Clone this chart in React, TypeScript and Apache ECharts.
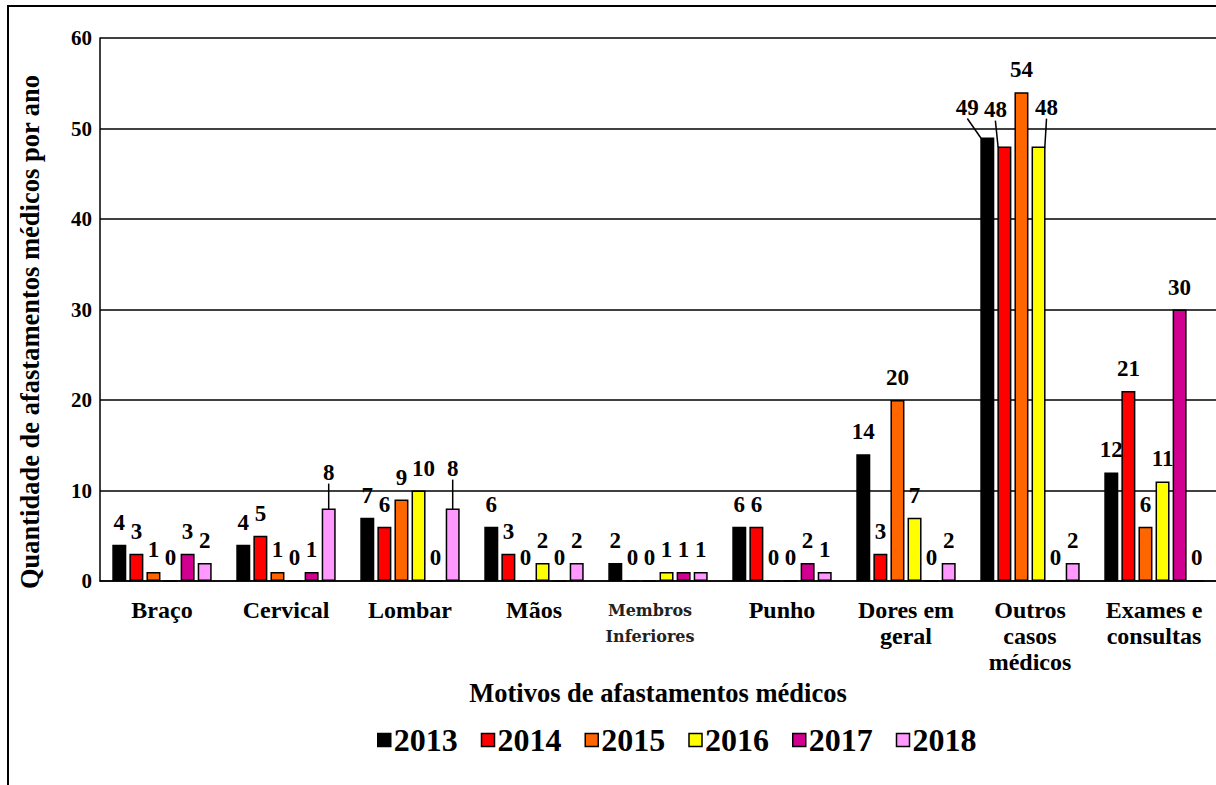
import React, { useEffect, useRef } from "react";
import * as echarts from "echarts";

const categories = [
  "Braço",
  "Cervical",
  "Lombar",
  "Mãos",
  "Membros Inferiores",
  "Punho",
  "Dores em\ngeral",
  "Outros\ncasos\nmédicos",
  "Exames e\nconsultas",
];
const years = ["2013", "2014", "2015", "2016", "2017", "2018"];
const v2013 = [4, 4, 7, 6, 2, 6, 14, 49, 12];
const v2014 = [3, 5, 6, 3, 0, 6, 3, 48, 21];
const v2015 = [1, 1, 9, 0, 0, 0, 20, 54, 6];
const v2016 = [0, 0, 10, 2, 1, 0, 7, 48, 11];
const v2017 = [3, 1, 0, 0, 1, 2, 0, 0, 30];
const v2018 = [2, 8, 8, 2, 1, 1, 2, 2, 0];
const seriesValues = [v2013, v2014, v2015, v2016, v2017, v2018];
const colors = ["#000000", "#FF0000", "#FF6600", "#FFFF00", "#D10090", "#FF99FF"];
const yTicks = [0, 10, 20, 30, 40, 50, 60];

// labels moved away from their bars: [series, category, dx, dy, leader line]
const movedLabels: [number, number, number, number, boolean][] = [
  [5, 1, 0, -14, true],
  [5, 2, 0, -18, true],
  [3, 2, 5, 0, false],
  [0, 7, -20, -8, true],
  [1, 7, -9, -15, true],
  [3, 7, 8, -17, true],
];

const SERIF = '"Liberation Serif", "Times New Roman", serif';

export default function App() {
  const ref = useRef<HTMLDivElement>(null);
  useEffect(() => {
    if (!ref.current) return;
    const chart = echarts.init(ref.current, null, { renderer: "svg" });
    const findMove = (si: number, ci: number) =>
      movedLabels.find((e) => e[0] === si && e[1] === ci);
    const series = years.map((y, si) => ({
      name: y,
      type: "bar",
      barWidth: 14,
      barGap: "22%",
      data: seriesValues[si].map((v, ci) => {
        const m = findMove(si, ci);
        return m && m[4] ? { value: v, labelLine: { show: true } } : v;
      }),
      itemStyle: { color: colors[si], borderColor: "#000", borderWidth: 1.5 },
      label: {
        show: true,
        position: "top",
        distance: 11,
        fontFamily: SERIF,
        fontWeight: "bold",
        fontSize: 23,
        color: "#000",
      },
      labelLine: { show: false, lineStyle: { color: "#000", width: 1.5 } },
      labelLayout: (p: any) => {
        const m = findMove(si, p.dataIndex);
        if (m) return { dx: m[2], dy: m[3] };
        return {};
      },
    }));
    chart.setOption({
      animation: false,
      backgroundColor: "#fff",
      textStyle: { fontFamily: SERIF },
      grid: { left: 100, top: 38, right: 0, bottom: 204, containLabel: false },
      legend: {
        bottom: 24,
        left: 372,
        itemWidth: 13,
        itemHeight: 13,
        itemGap: 23,
        icon: "rect",
        data: years.map((y, i) => ({
          name: y,
          itemStyle: { color: colors[i], borderColor: "#000", borderWidth: 1.5 },
        })),
        textStyle: { fontFamily: SERIF, fontWeight: "bold", fontSize: 32, color: "#000", padding: [0, 0, 0, -2] },
      },
      xAxis: {
        type: "category",
        data: categories,
        axisLine: { lineStyle: { color: "#000", width: 1.5 } },
        axisTick: { show: false },
        axisLabel: {
          interval: 0,
          margin: 16,
          fontFamily: SERIF,
          fontWeight: "bold",
          fontSize: 24,
          lineHeight: 26,
          color: "#000",
          formatter: (v: string) =>
            v === "Membros Inferiores" ? "{m|Membros}\n{m|Inferiores}" : v,
          rich: {
            m: {
              fontFamily: '"DejaVu Serif", serif',
              fontWeight: "bold",
              fontSize: 16,
              lineHeight: 26,
              color: "#222",
              padding: [0, 16, 0, 0],
            },
          },
        },
        name: "Motivos de afastamentos médicos",
        nameLocation: "middle",
        nameGap: 90,
        nameTextStyle: { fontFamily: SERIF, fontWeight: "bold", fontSize: 26.5, color: "#000" },
      },
      yAxis: {
        type: "value",
        min: yTicks[0],
        max: yTicks[yTicks.length - 1],
        interval: 10,
        axisLine: { show: true, lineStyle: { color: "#000", width: 1.5 } },
        axisTick: { show: false },
        splitLine: { lineStyle: { color: "#000", width: 1.5 } },
        axisLabel: {
          margin: 8,
          fontFamily: SERIF,
          fontWeight: "bold",
          fontSize: 21,
          color: "#000",
        },
      },
      graphic: [
        {
          type: "rect",
          shape: { x: 8, y: 6, width: 1400, height: 1000 },
          style: { fill: "none", stroke: "#000", lineWidth: 2 },
          silent: true,
        },
        {
          type: "text",
          x: 30,
          y: 332,
          rotation: Math.PI / 2,
          style: {
            text: "Quantidade de afastamentos médicos por ano",
            fontFamily: SERIF,
            fontWeight: "bold",
            fontSize: 26.5,
            fill: "#000",
            align: "center",
            verticalAlign: "middle",
          },
        },
      ],
      series,
    });
    return () => chart.dispose();
  }, []);
  return (
    <div
      ref={ref}
      style={{ position: "fixed", left: 0, top: 0, width: 1216, height: 785, background: "#fff" }}
    />
  );
}
